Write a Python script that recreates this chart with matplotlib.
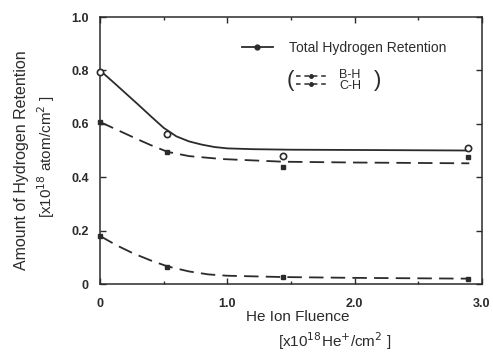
import numpy as np
import matplotlib
matplotlib.use("Agg")
import matplotlib.pyplot as plt
from matplotlib.lines import Line2D
from matplotlib.ticker import MultipleLocator

plt.rcParams['font.family'] = ['Liberation Sans', 'DejaVu Sans']

# fitted curves
tot_cx = [0, 0.1, 0.2, 0.3, 0.4, 0.5, 0.6, 0.7, 0.8, 0.9, 1.0, 1.2, 1.5, 2.0, 2.9]
tot_cy = [0.80, 0.758, 0.715, 0.672, 0.628, 0.585, 0.553, 0.534, 0.522, 0.513, 0.508, 0.505, 0.503, 0.502, 0.50]
bh_cx = [0, 0.1, 0.2, 0.3, 0.4, 0.53, 0.70, 0.96, 1.44, 2.0, 2.9]
bh_cy = [0.607, 0.585, 0.563, 0.541, 0.52, 0.495, 0.479, 0.468, 0.458, 0.455, 0.452]
ch_cx = [0, 0.13, 0.26, 0.40, 0.53, 0.70, 0.85, 1.0, 1.44, 2.0, 2.9]
ch_cy = [0.18, 0.145, 0.115, 0.088, 0.066, 0.047, 0.036, 0.031, 0.026, 0.023, 0.02]

# measured points
pt_x = [0, 0.53, 1.44, 2.89]
tot_py = [0.795, 0.563, 0.479, 0.509]
bh_py = [0.607, 0.494, 0.438, 0.476]
ch_py = [0.18, 0.064, 0.026, 0.019]

ink = '#2b2b2b'

fig = plt.figure(figsize=(4.93, 3.59), dpi=100)
ax = fig.add_axes([0.2028, 0.2089, 0.7749, 0.7437])

ax.plot(tot_cx, tot_cy, color=ink, lw=1.3)
ax.plot(bh_cx, bh_cy, color=ink, lw=1.3, dashes=(8, 4))
ax.plot(ch_cx, ch_cy, color=ink, lw=1.3, dashes=(8, 4))

ax.plot(pt_x, tot_py, 'o', ms=4.5, mfc='white', mec=ink, mew=1.2, clip_on=False, zorder=5)
ax.plot(pt_x, bh_py, 's', ms=2.5, color=ink, clip_on=False, zorder=5)
ax.plot(pt_x, ch_py, 's', ms=2.5, color=ink, clip_on=False, zorder=5)

ax.set_xlim(0, 3.0)
ax.set_ylim(0, 1.0)
ax.xaxis.set_minor_locator(MultipleLocator(0.5))
ax.set_xticks([0, 1, 2, 3])
ax.set_xticklabels(['0', '1.0', '2.0', '3.0'])
ax.set_yticks([0, 0.2, 0.4, 0.6, 0.8, 1.0])
ax.set_yticklabels(['0', '0.2', '0.4', '0.6', '0.8', '1.0'])
ax.tick_params(which='both', direction='in', top=True, right=True, color=ink)
ax.tick_params(which='major', length=4, width=1.0)
ax.tick_params(which='minor', length=2, width=1.0)
ax.tick_params(axis='x', which='major', pad=10)
ax.tick_params(axis='y', which='major', pad=8)
for lab in ax.get_xticklabels() + ax.get_yticklabels():
    lab.set_fontsize(9)
    lab.set_fontweight('bold')
    lab.set_color(ink)
for s in ax.spines.values():
    s.set_linewidth(1.1)
    s.set_color(ink)

# axis titles
fig.text(22 / 493, 1 - 160 / 359, 'Amount of Hydrogen Retention', rotation=90,
         ha='center', va='center', fontsize=11.5, color=ink)
fig.text(46 / 493, 1 - 157 / 359, r'[x10$^{18}$ atom/cm$^{2}$ ]', rotation=90,
         ha='center', va='center', fontsize=11, color=ink)
fig.text(298 / 493, 1 - 317 / 359, 'He Ion Fluence', ha='center', va='center',
         fontsize=11, color=ink)
fig.text(335 / 493, 1 - 341 / 359, r'[x10$^{18}$He$^{+}$/cm$^{2}$ ]', ha='center',
         va='center', fontsize=11, color=ink)


# legend drawn by hand (pixel -> axes fraction)
def ax_x(px):
    return (px - 100) / 382


def ax_y(py):
    return (284 - py) / 267


tr = ax.transAxes
ax.add_line(Line2D([ax_x(242), ax_x(273)], [ax_y(47), ax_y(47)], color=ink, lw=1.3,
                   transform=tr, clip_on=False))
ax.add_line(Line2D([ax_x(257)], [ax_y(47)], marker='o', ms=3.5, color=ink,
                   transform=tr, clip_on=False))
ax.text(ax_x(289), ax_y(48), 'Total Hydrogen Retention', transform=tr,
        ha='left', va='center', fontsize=10, color=ink)

ax.text(ax_x(290), ax_y(80), '(', transform=tr, ha='center', va='center',
        fontsize=16, color=ink)
ax.text(ax_x(378), ax_y(80), ')', transform=tr, ha='center', va='center',
        fontsize=16, color=ink)
for yy, ty, name in [(76, 75, 'B-H'), (84, 86, 'C-H')]:
    ax.add_line(Line2D([ax_x(296), ax_x(327)], [ax_y(yy), ax_y(yy)], color=ink, lw=1.1,
                       dashes=(3, 2.5), transform=tr, clip_on=False))
    ax.add_line(Line2D([ax_x(311)], [ax_y(yy)], marker='o', ms=2.5, color=ink,
                       transform=tr, clip_on=False))
    ax.text(ax_x(350), ax_y(ty), name, transform=tr, ha='center', va='center',
            fontsize=9, color=ink)

fig.savefig('out.png', dpi=100)
